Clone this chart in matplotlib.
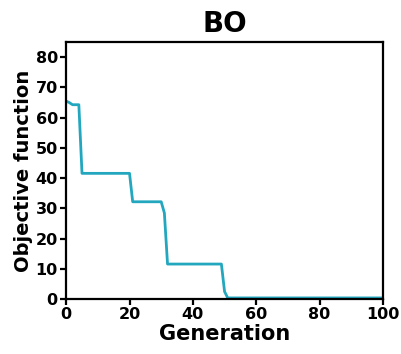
import numpy as np
import matplotlib.pyplot as plt

# best objective value found at each generation
generation = np.arange(0, 101)
objective = np.array(
    [65.5, 65.0, 64.3, 64.3, 64.3]
    + [41.6] * 16          # gens 5-20
    + [32.2] * 10          # gens 21-30
    + [28.5]               # gen 31
    + [11.6] * 18          # gens 32-49
    + [2.5]                # gen 50
    + [0.4] * 50           # gens 51-100
)

fig = plt.figure(figsize=(4.01, 3.54), dpi=100)
ax = fig.add_axes([0.165, 0.155, 0.79, 0.726])

ax.plot(generation, objective, color='#22a7bf', linewidth=2.0)

ax.set_xlim(0, 100)
ax.set_ylim(0, 85)
ax.set_xticks(np.arange(0, 101, 20))
ax.set_yticks(np.arange(0, 81, 10))

ax.set_title('BO', fontsize=20, fontweight='bold', pad=7)
ax.set_xlabel('Generation', fontsize=15, fontweight='bold', labelpad=1)
ax.set_ylabel('Objective function', fontsize=14, fontweight='bold', labelpad=2)

for spine in ax.spines.values():
    spine.set_linewidth(1.6)
ax.tick_params(width=1.6, length=4, labelsize=11.5, pad=2)
for lbl in ax.get_xticklabels() + ax.get_yticklabels():
    lbl.set_fontweight('bold')

plt.savefig('out.png', dpi=100)
